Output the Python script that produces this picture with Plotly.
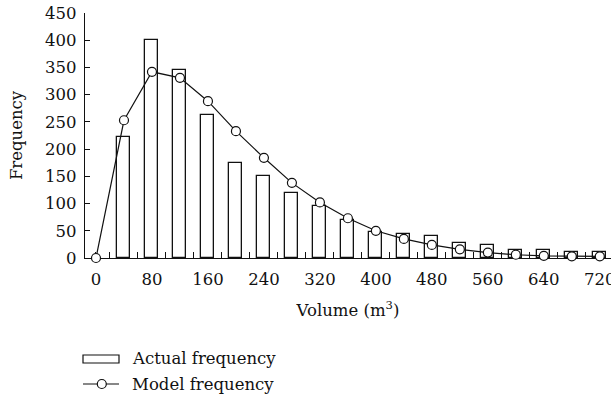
import plotly.graph_objects as go

# Volume classes (m^3) and frequencies
volume = [0, 40, 80, 120, 160, 200, 240, 280, 320, 360, 400, 440, 480,
          520, 560, 600, 640, 680, 720]
actual_volume = volume[1:]
actual_freq = [223, 400, 345, 262, 175, 150, 120, 95, 70, 47, 45, 40,
               27, 23, 14, 15, 11, 11]
model_freq = [0, 253, 342, 331, 288, 233, 184, 138, 102, 73, 50, 35, 24,
              16, 10, 6, 4, 3, 3]
x_ticks = [0, 80, 160, 240, 320, 400, 480, 560, 640, 720]
y_ticks = [0, 50, 100, 150, 200, 250, 300, 350, 400, 450]

W, H = 611, 400
ML, MR, MT, MB = 85, 0, 13, 142
FONT = "DejaVu Serif"
FS = 16.5
INK = "#111111"


def px_x(px):
    return (px - ML) / (W - ML - MR)


def px_y(py):
    return (H - MB - py) / (H - MT - MB)


fig = go.Figure()

fig.add_trace(go.Bar(
    x=actual_volume, y=actual_freq, width=18.6,
    marker=dict(color="white", line=dict(color=INK, width=1.3)),
    name="Actual frequency", showlegend=False,
))

fig.add_trace(go.Scatter(
    x=volume, y=model_freq, mode="lines+markers",
    line=dict(color=INK, width=1.2),
    marker=dict(size=9, color="white", line=dict(color=INK, width=1.2)),
    name="Model frequency", showlegend=False, cliponaxis=False,
))

# Legend drawn below the axes
shapes = [
    dict(type="rect", xref="paper", yref="paper",
         x0=px_x(83), x1=px_x(119), y0=px_y(355), y1=px_y(363),
         line=dict(color=INK, width=1.2), fillcolor="white"),
    dict(type="line", xref="paper", yref="paper",
         x0=px_x(83), x1=px_x(119), y0=px_y(384), y1=px_y(384),
         line=dict(color=INK, width=1.2)),
    dict(type="circle", xref="paper", yref="paper",
         x0=px_x(97.3), x1=px_x(106.3), y0=px_y(379.5), y1=px_y(388.5),
         line=dict(color=INK, width=1.2), fillcolor="white"),
]
annotations = [
    dict(text="Actual frequency", xref="paper", yref="paper",
         x=px_x(130), y=px_y(358), xanchor="left", yanchor="middle",
         showarrow=False, font=dict(family=FONT, size=FS, color=INK)),
    dict(text="Model frequency", xref="paper", yref="paper",
         x=px_x(130), y=px_y(384), xanchor="left", yanchor="middle",
         showarrow=False, font=dict(family=FONT, size=FS, color=INK)),
]

fig.update_layout(
    width=W, height=H,
    margin=dict(l=ML, r=MR, t=MT, b=MB, autoexpand=False),
    paper_bgcolor="white", plot_bgcolor="white",
    font=dict(family=FONT, size=FS, color=INK),
    bargap=0, showlegend=False,
    shapes=shapes, annotations=annotations,
)

fig.update_xaxes(
    range=[-15.7, 736], tickmode="array", tickvals=x_ticks,
    ticks="inside", ticklen=6, tickwidth=1.2, tickcolor=INK,
    minor=dict(tick0=0, dtick=20, ticks="inside", ticklen=6,
               tickwidth=1.2, tickcolor=INK),
    ticklabelstandoff=6, ticklabeloverflow="allow",
    showline=True, linecolor=INK, linewidth=1.3,
    showgrid=False, zeroline=False, layer="below traces",
    title=dict(text="Volume (m<sup>3</sup>)", standoff=16,
               font=dict(family=FONT, size=FS, color=INK)),
    automargin=False,
)

fig.update_yaxes(
    range=[0, 450], tickmode="array", tickvals=y_ticks,
    ticks="inside", ticklen=5, tickwidth=1.2, tickcolor=INK,
    ticklabelstandoff=4,
    showline=True, linecolor=INK, linewidth=1.3,
    showgrid=False, zeroline=False,
    title=dict(text="Frequency", standoff=18,
               font=dict(family=FONT, size=FS, color=INK)),
    automargin=False,
)

fig.write_html("out.html")
